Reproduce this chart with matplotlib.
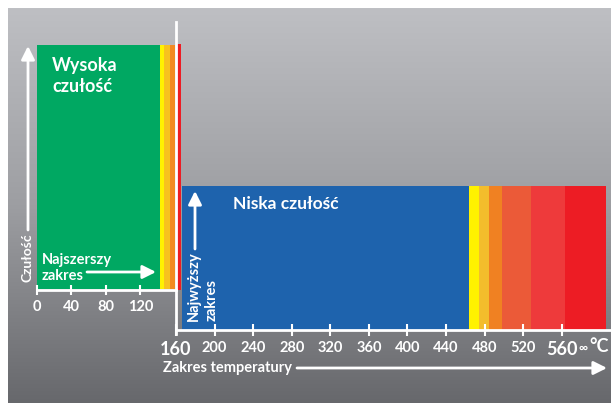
import numpy as np
import matplotlib
matplotlib.use("Agg")
import matplotlib.pyplot as plt
from matplotlib.colors import LinearSegmentedColormap
from matplotlib.lines import Line2D

plt.rcParams['font.family'] = ['Lato', 'DejaVu Sans']

# DANE
# zakres wysokiej czulosci (wykres lewy)
hi_edges = [0, 143, 148, 154, 160]
hi_colors = ['#00a862', '#fff200', '#f7c21f', '#f28a22']
hi_red = [161, 167]
hi_ticks = [0, 40, 80, 120]

# zakres niskiej czulosci (wykres prawy)
lo_edges = [166, 464, 474, 485, 498, 528, 563, 606]
lo_colors = ['#1e63ad', '#fff200', '#f3bd2c', '#f08122', '#eb5a38', '#ee3a3b', '#ed1c24']
lo_ticks = [160, 200, 240, 280, 320, 360, 400, 440, 480, 520, 560]
lo_big = [160, 560]

W, H = 611, 403
fig = plt.figure(figsize=(W / 100, H / 100), dpi=100)

def fx(px):
    return px / W

def fy(py):
    return 1 - py / H

# tlo - szary gradient
bg = fig.add_axes([fx(8), 0, 1 - fx(8), fy(8)])
cmap = LinearSegmentedColormap.from_list('g', ['#bebfc3', '#9d9ea2', '#67686c'])
bg.imshow(np.linspace(0, 1, 256).reshape(-1, 1), aspect='auto', cmap=cmap,
          extent=[0, 1, 0, 1])
bg.set_axis_off()

# lewy wykres
axl = fig.add_axes([fx(37), fy(290), fx(176) - fx(37), fy(44) - fy(290)])
axl.set_xlim(0, 161.4)
axl.set_ylim(0, 1)
for i in range(len(hi_colors)):
    axl.barh(0.5, hi_edges[i + 1] - hi_edges[i], left=hi_edges[i], height=0.99,
             color=hi_colors[i], edgecolor='none')
axl.barh(0.5, hi_red[1] - hi_red[0], left=hi_red[0], height=1.0,
         color='#ed1c24', edgecolor='none', clip_on=False)
axl.patch.set_alpha(0)
for s in ['top', 'right', 'left']:
    axl.spines[s].set_visible(False)
axl.spines['bottom'].set_color('white')
axl.spines['bottom'].set_linewidth(2)
axl.set_yticks([])
axl.set_xticks(hi_ticks)
axl.tick_params(axis='x', colors='white', direction='inout', length=7, width=1.5,
                pad=4, labelsize=10.5)
for t in axl.get_xticklabels():
    t.set_fontweight('bold')

# prawy wykres
axr = fig.add_axes([fx(176), fy(330), fx(610) - fx(176), fy(186) - fy(330)])
axr.set_xlim(160, 610)
axr.set_ylim(0, 1)
for i in range(len(lo_colors)):
    axr.barh(0.5, lo_edges[i + 1] - lo_edges[i], left=lo_edges[i], height=1.0,
             color=lo_colors[i], edgecolor='none')
axr.patch.set_alpha(0)
for s in ['top', 'right', 'left']:
    axr.spines[s].set_visible(False)
axr.spines['bottom'].set_color('white')
axr.spines['bottom'].set_linewidth(2)
axr.set_yticks([])
axr.set_xticks(lo_ticks)
axr.tick_params(axis='x', colors='white', direction='inout', length=8, width=1.5,
                pad=4, labelsize=10.5)
for t, v in zip(axr.get_xticklabels(), lo_ticks):
    t.set_fontweight('bold')
    if v in lo_big:
        t.set_fontsize(13)

# pionowa linia
fig.add_artist(Line2D([fx(176), fx(176)], [fy(22), fy(334)], color='white', lw=2))

# napisy
fig.text(fx(52), fy(76), 'Wysoka\nczułość', color='white', fontsize=13,
         fontweight='bold', va='center', ha='left', linespacing=1.25)
fig.text(fx(233), fy(204), 'Niska czułość', color='white', fontsize=12.5,
         fontweight='bold', va='center', ha='left')
fig.text(fx(42), fy(268), 'Najszerszy\nzakres', color='white', fontsize=10.5,
         fontweight='bold', va='center', ha='left', linespacing=1.15)
fig.text(fx(28), fy(282), 'Czułość', color='white', fontsize=10,
         fontweight='bold', rotation=90, va='bottom', ha='center')
fig.text(fx(203), fy(321), 'Najwyższy\nzakres', color='white', fontsize=10.5,
         fontweight='bold', rotation=90, va='bottom', ha='center',
         multialignment='left', linespacing=1.3)
fig.text(fx(163), fy(368), 'Zakres temperatury', color='white', fontsize=10.5,
         fontweight='bold', va='center', ha='left')
fig.text(fx(578), fy(348), '∞', color='white', fontsize=9,
         fontweight='bold', va='center', ha='left')
fig.text(fx(589), fy(346), '°C', color='white', fontsize=13,
         fontweight='bold', va='center', ha='left')

# strzalki
arr = dict(arrowstyle='-|>', color='white', lw=2, mutation_scale=20,
           shrinkA=0, shrinkB=0)
fig.add_artist(plt.Annotation('', xy=(fx(28), fy(46)), xytext=(fx(28), fy(230)),
                              xycoords='figure fraction', arrowprops=arr))
fig.add_artist(plt.Annotation('', xy=(fx(156), fy(272)), xytext=(fx(87), fy(272)),
                              xycoords='figure fraction', arrowprops=arr))
fig.add_artist(plt.Annotation('', xy=(fx(195), fy(191)), xytext=(fx(195), fy(249)),
                              xycoords='figure fraction', arrowprops=arr))
fig.add_artist(plt.Annotation('', xy=(fx(607), fy(368)), xytext=(fx(297), fy(368)),
                              xycoords='figure fraction', arrowprops=arr))

fig.savefig('out.png', dpi=100)
